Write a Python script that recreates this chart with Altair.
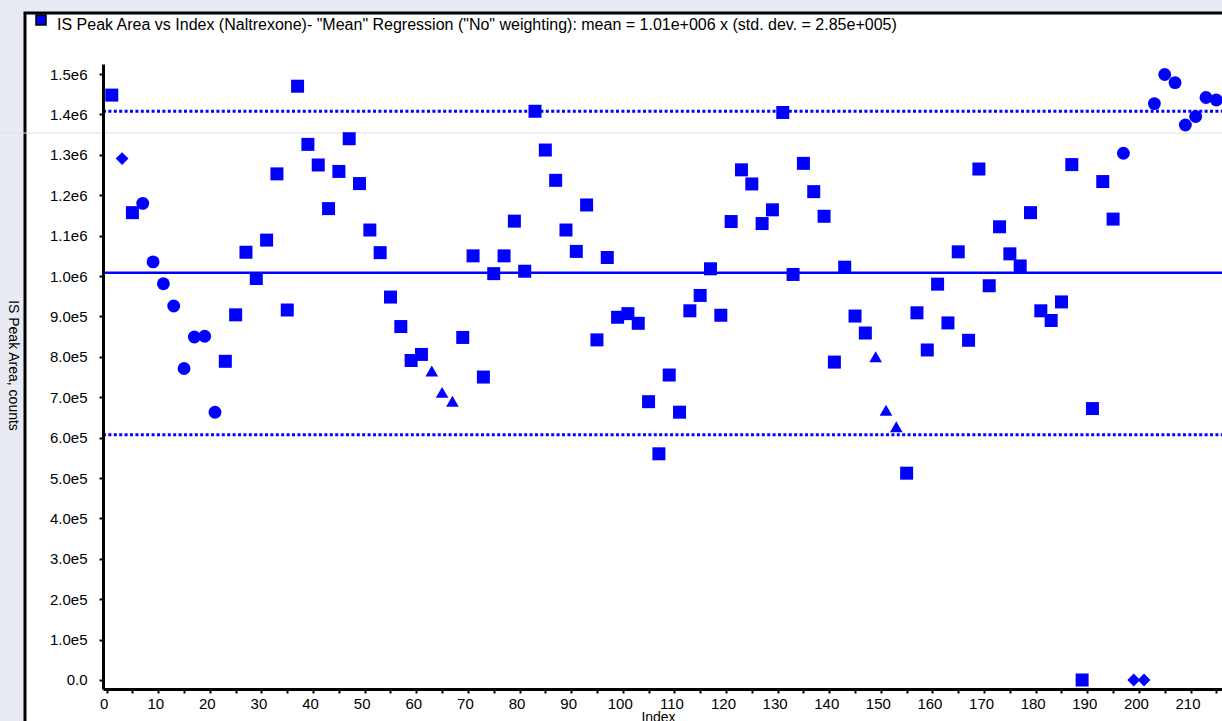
import altair as alt
import pandas as pd

# ---- data ----
sample_index = list(range(1, 216, 2))
peak_area = [
    1448000, 1291000, 1157000, 1180000, 1035000, 981000, 926000, 771000, 849000, 851000,
    663000, 789000, 904000, 1059000, 994000, 1089000, 1253000, 916000, 1470000, 1326000,
    1275000, 1167000, 1259000, 1340000, 1229000, 1114000, 1058000, 948000, 875000, 791000,
    806000, 765000, 712000, 690000, 848000, 1050000, 750000, 1006000, 1050000, 1136000,
    1012000, 1408000, 1312000, 1237000, 1114000, 1061000, 1176000, 842000, 1046000, 898000,
    907000, 883000, 689000, 560000, 755000, 663000, 914000, 952000, 1018000, 903000,
    1135000, 1263000, 1228000, 1130000, 1164000, 1405000, 1004000, 1279000, 1209000, 1148000,
    787000, 1022000, 901000, 859000, 800000, 668000, 627000, 512000, 909000, 817000,
    980000, 884000, 1060000, 841000, 1265000, 976000, 1122000, 1055000, 1025000, 1157000,
    914000, 890000, 936000, 1276000, 0, 672000, 1234000, 1141000, 1304000, 0,
    0, 1427000, 1499000, 1479000, 1374000, 1395000, 1442000, 1436000,
]
marker = (
    ["square", "diamond", "square"] + ["circle"] * 8 + ["square"] * 20
    + ["triangle-up"] * 3 + ["square"] * 40 + ["triangle-up"] * 3
    + ["square"] * 21 + ["circle", "diamond", "diamond"] + ["circle"] * 7
)

mean_val = 1008000
upper_val = 1408000
lower_val = 607000

title_text = ('IS Peak Area vs Index (Naltrexone)- "Mean" Regression ("No" weighting): '
              'mean = 1.01e+006 x (std. dev. = 2.85e+005)')

x_tick_values = list(range(0, 216, 5))
y_tick_values = [i * 50000 for i in range(0, 31)]

shape_domain = ["square", "circle", "diamond", "triangle-up"]
shape_sizes = [169, 160, 120, 130]

# ---- chart ----
W, H = 1119, 625
BLUE = "#0000FF"
FONT = "Liberation Sans"

df = pd.DataFrame({"Index": sample_index, "Area": peak_area, "Marker": marker})

xscale = alt.Scale(domain=[-0.7, 216.1], nice=False, zero=False)
yscale = alt.Scale(domain=[-22300, 1525000], nice=False, zero=False)

xaxis = alt.Axis(
    values=x_tick_values,
    labelExpr="datum.value % 10 == 0 ? datum.value : ''",
    grid=False, domainColor="black", domainWidth=3, tickColor="black",
    tickWidth=2, tickSize=4, labelFont=FONT, labelFontSize=15, labelColor="black",
    labelPadding=3, labelOffset=-3, labelFlush=False, labelOverlap=False,
    title="Index", titleFont=FONT, titleFontSize=14, titleFontWeight="normal",
    titleColor="black", titleY=21, titleX=555, titleBaseline="top", zindex=1,
)
yaxis = alt.Axis(
    values=y_tick_values,
    labelExpr="datum.value % 100000 == 0 ? (datum.value == 0 ? '0.0' : replace(format(datum.value, '.1e'), '+', '')) : ''",
    grid=False, domainColor="black", domainWidth=3, tickColor="black",
    tickWidth=2, tickSize=4, labelFont=FONT, labelFontSize=15, labelColor="black",
    labelPadding=12, labelFlush=False, labelOverlap=False,
    title="IS Peak Area, counts", titleFont=FONT, titleFontSize=14,
    titleFontWeight="normal", titleColor="black", titleAngle=90,
    titleX=-91, titleY=301, titleAlign="center", titleBaseline="middle", zindex=1,
)

one = pd.DataFrame({"a": [0]})

panel = alt.Chart(one).mark_rect(fill="white", stroke="black", strokeWidth=3).encode(
    x=alt.value(-78), x2=alt.value(W + 30), y=alt.value(-51), y2=alt.value(H + 60)
)
faint = alt.Chart(one).mark_rule(color="#DDE1EE", strokeWidth=1).encode(
    x=alt.value(-103), x2=alt.value(W), y=alt.value(69)
)

stats = pd.DataFrame({"v": [upper_val, lower_val]})
mean_df = pd.DataFrame({"v": [mean_val]})

dotted = alt.Chart(stats).mark_rule(color=BLUE, strokeWidth=3, strokeDash=[3, 2.4]).encode(
    y=alt.Y("v:Q", scale=yscale), x=alt.value(0), x2=alt.value(W)
)
mean_line = alt.Chart(mean_df).mark_rule(color=BLUE, strokeWidth=2.5).encode(
    y=alt.Y("v:Q", scale=yscale), x=alt.value(0), x2=alt.value(W)
)

points = alt.Chart(df).mark_point(filled=True, color=BLUE, opacity=1).encode(
    x=alt.X("Index:Q", scale=xscale, axis=xaxis),
    y=alt.Y("Area:Q", scale=yscale, axis=yaxis),
    shape=alt.Shape("Marker:N", scale=alt.Scale(domain=shape_domain, range=shape_domain), legend=None),
    size=alt.Size("Marker:N", scale=alt.Scale(domain=shape_domain, range=shape_sizes), legend=None),
)

title_df = pd.DataFrame({"t": [title_text]})
title_mark = alt.Chart(title_df).mark_text(
    align="left", baseline="middle", font=FONT, fontSize=16, color="black"
).encode(text="t:N", x=alt.value(-46), y=alt.value(-39))

legend_sq = alt.Chart(one).mark_square(
    size=100, fill=BLUE, stroke="black", strokeWidth=1.5, opacity=1
).encode(x=alt.value(-62), y=alt.value(-44))

chart = alt.layer(
    panel, faint, dotted, mean_line, points, title_mark, legend_sq
).properties(
    width=W, height=H,
    padding={"left": 103, "top": 64, "right": 0, "bottom": 32},
    autosize=alt.AutoSizeParams(type="none"),
).configure(background="#E8EAF4").configure_view(strokeWidth=0)

chart.save("out.html", embed_options={"renderer": "svg", "actions": False})
